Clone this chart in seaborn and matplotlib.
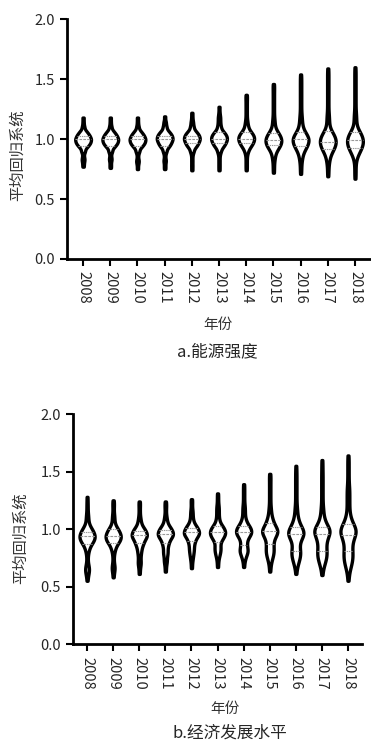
import numpy as np
import pandas as pd
import matplotlib
matplotlib.use("Agg")
import matplotlib.pyplot as plt
import seaborn as sns

years = ["2008", "2009", "2010", "2011", "2012", "2013", "2014", "2015", "2016", "2017", "2018"]

# a. 能源强度 : coefficient values and how many regions share them
energy_vals = {
    "2008": [0.77, 0.80, 0.83, 0.86, 0.90, 0.94, 0.97, 1.00, 1.03, 1.06, 1.10, 1.14, 1.18],
    "2009": [0.76, 0.79, 0.83, 0.86, 0.90, 0.94, 0.97, 1.00, 1.03, 1.06, 1.10, 1.14, 1.18],
    "2010": [0.75, 0.79, 0.82, 0.86, 0.90, 0.94, 0.97, 1.00, 1.03, 1.06, 1.10, 1.14, 1.18],
    "2011": [0.75, 0.78, 0.82, 0.86, 0.90, 0.94, 0.97, 1.00, 1.03, 1.06, 1.10, 1.14, 1.19],
    "2012": [0.74, 0.78, 0.82, 0.86, 0.90, 0.94, 0.97, 1.00, 1.03, 1.06, 1.10, 1.14, 1.18, 1.22],
    "2013": [0.74, 0.78, 0.82, 0.86, 0.90, 0.94, 0.97, 1.00, 1.03, 1.06, 1.10, 1.14, 1.18, 1.22, 1.27],
    "2014": [0.74, 0.78, 0.82, 0.86, 0.90, 0.94, 0.97, 1.00, 1.03, 1.06, 1.10, 1.14, 1.18, 1.22, 1.26, 1.30, 1.34, 1.37],
    "2015": [0.72, 0.76, 0.80, 0.84, 0.88, 0.92, 0.95, 0.98, 1.01, 1.04, 1.07, 1.11, 1.15, 1.19, 1.23, 1.27, 1.31, 1.35, 1.39, 1.43, 1.46],
    "2016": [0.71, 0.75, 0.79, 0.83, 0.87, 0.91, 0.94, 0.97, 1.00, 1.03, 1.06, 1.10, 1.14, 1.18, 1.22, 1.26, 1.30, 1.34, 1.38, 1.42, 1.46, 1.50, 1.54],
    "2017": [0.69, 0.73, 0.77, 0.81, 0.85, 0.89, 0.92, 0.95, 0.98, 1.01, 1.04, 1.07, 1.11, 1.15, 1.19, 1.23, 1.27, 1.31, 1.35, 1.39, 1.43, 1.47, 1.51, 1.55, 1.59],
    "2018": [0.67, 0.71, 0.75, 0.79, 0.83, 0.87, 0.90, 0.93, 0.96, 0.99, 1.02, 1.05, 1.08, 1.12, 1.16, 1.20, 1.24, 1.28, 1.32, 1.36, 1.40, 1.44, 1.48, 1.52, 1.56, 1.60],
}
energy_cnts = {
    "2008": [1, 1, 2, 1, 3, 6, 9, 10, 8, 5, 2, 1, 1],
    "2009": [1, 1, 2, 1, 3, 6, 9, 10, 8, 5, 2, 1, 1],
    "2010": [1, 1, 2, 1, 3, 6, 9, 10, 8, 5, 2, 1, 1],
    "2011": [1, 1, 2, 1, 3, 6, 8, 10, 9, 6, 3, 2, 1],
    "2012": [1, 1, 1, 1, 3, 6, 8, 10, 9, 6, 3, 2, 1, 1],
    "2013": [1, 1, 1, 1, 3, 6, 8, 10, 9, 6, 3, 2, 2, 1, 1],
    "2014": [1, 1, 1, 1, 3, 6, 8, 10, 9, 6, 3, 2, 1, 1, 1, 1, 1, 1],
    "2015": [1, 1, 1, 2, 3, 6, 8, 10, 9, 7, 4, 2, 2, 1, 1, 1, 1, 1, 1, 1, 1],
    "2016": [1, 1, 1, 2, 3, 5, 7, 9, 10, 8, 5, 3, 2, 2, 1, 1, 1, 1, 1, 1, 1, 1, 1],
    "2017": [1, 1, 1, 2, 3, 5, 7, 9, 10, 9, 7, 4, 2, 2, 2, 1, 1, 1, 1, 1, 1, 1, 1, 1, 1],
    "2018": [1, 1, 1, 1, 2, 4, 6, 8, 10, 10, 9, 7, 4, 2, 2, 2, 1, 1, 1, 1, 1, 1, 1, 1, 1, 1],
}

# b. 经济发展水平
economy_vals = {
    "2008": [0.55, 0.59, 0.62, 0.65, 0.68, 0.72, 0.76, 0.80, 0.84, 0.88, 0.91, 0.94, 0.97, 1.00, 1.03, 1.07, 1.11, 1.15, 1.19, 1.23, 1.28],
    "2009": [0.58, 0.62, 0.65, 0.68, 0.72, 0.76, 0.80, 0.84, 0.88, 0.91, 0.94, 0.97, 1.00, 1.03, 1.07, 1.11, 1.15, 1.19, 1.22, 1.25],
    "2010": [0.61, 0.65, 0.69, 0.72, 0.76, 0.80, 0.84, 0.88, 0.92, 0.95, 0.98, 1.01, 1.05, 1.09, 1.13, 1.17, 1.21, 1.24],
    "2011": [0.63, 0.67, 0.71, 0.74, 0.78, 0.81, 0.85, 0.89, 0.93, 0.96, 0.99, 1.02, 1.06, 1.10, 1.14, 1.18, 1.21, 1.24],
    "2012": [0.66, 0.70, 0.74, 0.78, 0.82, 0.86, 0.90, 0.94, 0.97, 1.00, 1.03, 1.07, 1.11, 1.15, 1.19, 1.23, 1.26],
    "2013": [0.67, 0.71, 0.75, 0.79, 0.83, 0.87, 0.91, 0.94, 0.97, 1.00, 1.03, 1.07, 1.11, 1.15, 1.19, 1.23, 1.27, 1.31],
    "2014": [0.67, 0.71, 0.75, 0.79, 0.82, 0.86, 0.90, 0.94, 0.97, 1.00, 1.03, 1.07, 1.11, 1.15, 1.19, 1.23, 1.27, 1.31, 1.35, 1.39],
    "2015": [0.63, 0.67, 0.71, 0.75, 0.79, 0.83, 0.87, 0.91, 0.95, 0.98, 1.01, 1.05, 1.09, 1.13, 1.17, 1.21, 1.25, 1.29, 1.33, 1.37, 1.41, 1.45, 1.48],
    "2016": [0.61, 0.65, 0.69, 0.73, 0.77, 0.81, 0.85, 0.89, 0.93, 0.96, 0.99, 1.02, 1.06, 1.10, 1.14, 1.18, 1.22, 1.26, 1.30, 1.34, 1.38, 1.42, 1.46, 1.50, 1.55],
    "2017": [0.60, 0.64, 0.68, 0.72, 0.76, 0.80, 0.84, 0.88, 0.92, 0.96, 0.99, 1.02, 1.06, 1.10, 1.14, 1.18, 1.22, 1.26, 1.30, 1.34, 1.38, 1.42, 1.46, 1.50, 1.55, 1.60],
    "2018": [0.55, 0.59, 0.63, 0.67, 0.71, 0.75, 0.79, 0.83, 0.87, 0.91, 0.95, 0.98, 1.01, 1.04, 1.08, 1.12, 1.16, 1.20, 1.24, 1.28, 1.32, 1.36, 1.40, 1.44, 1.48, 1.52, 1.56, 1.60, 1.64],
}
economy_cnts = {
    "2008": [1, 1, 2, 3, 2, 1, 1, 2, 4, 7, 9, 10, 8, 6, 3, 2, 2, 1, 1, 1, 1],
    "2009": [1, 1, 2, 2, 1, 1, 2, 4, 7, 9, 10, 8, 6, 3, 2, 2, 1, 1, 1, 1],
    "2010": [1, 1, 2, 2, 2, 3, 4, 7, 9, 10, 8, 6, 3, 2, 1, 1, 1, 1],
    "2011": [1, 1, 2, 2, 3, 3, 4, 6, 9, 10, 8, 6, 3, 2, 1, 1, 1, 1],
    "2012": [1, 1, 2, 3, 4, 4, 6, 9, 10, 8, 6, 3, 2, 2, 1, 1, 1],
    "2013": [1, 1, 2, 4, 5, 4, 6, 8, 10, 8, 6, 3, 2, 2, 2, 1, 1, 1],
    "2014": [1, 1, 3, 5, 6, 5, 5, 8, 10, 9, 7, 4, 2, 2, 2, 1, 1, 1, 1, 1],
    "2015": [1, 1, 2, 4, 6, 6, 5, 6, 9, 10, 9, 6, 4, 2, 2, 1, 1, 1, 1, 1, 1, 1, 1],
    "2016": [1, 1, 3, 5, 7, 7, 5, 6, 9, 10, 9, 7, 5, 3, 2, 2, 1, 1, 1, 1, 1, 1, 1, 1, 1],
    "2017": [1, 1, 3, 5, 7, 7, 6, 6, 8, 10, 10, 8, 5, 3, 2, 2, 1, 1, 1, 1, 1, 1, 1, 1, 1, 1],
    "2018": [1, 1, 2, 4, 6, 7, 7, 6, 6, 8, 10, 10, 9, 7, 5, 3, 2, 2, 2, 2, 2, 2, 1, 1, 1, 1, 1, 1, 1],
}

yticks = [0.0, 0.5, 1.0, 1.5, 2.0]
ylabel = "平均回归系统"
xlabel = "年份"
captions = ["a.能源强度", "b.经济发展水平"]


def to_long(vals, cnts):
    frames = [pd.DataFrame({"year": y, "value": np.repeat(vals[y], cnts[y])}) for y in years]
    return pd.concat(frames, ignore_index=True)


sns.set_style("white")
plt.rcParams["font.family"] = ["Noto Sans CJK SC", "DejaVu Sans"]

fig = plt.figure(figsize=(3.71, 7.42), dpi=100)
ax1 = fig.add_axes([0.180, 0.651, 0.820, 0.323])
ax2 = fig.add_axes([0.196, 0.132, 0.780, 0.310])

panels = [(ax1, to_long(energy_vals, energy_cnts), (-0.6, 10.59)),
          (ax2, to_long(economy_vals, economy_cnts), (-0.55, 10.54))]
for ax, df, xl in panels:
    sns.violinplot(data=df, x="year", y="value", order=years, ax=ax,
                   cut=0, density_norm="width", width=0.58, bw_adjust=0.5,
                   color="white", linecolor="black", linewidth=2.4,
                   inner="quart", inner_kws=dict(color="#999999", linewidth=0.8))
    ax.set_xlim(*xl)
    ax.set_ylim(0, 2)
    ax.set_yticks(yticks)
    ax.set_yticklabels([f"{t:.1f}" for t in yticks])
    ax.set_xlabel("")
    ax.set_ylabel("")
    for s in ["top", "right"]:
        ax.spines[s].set_visible(False)
    for s in ["left", "bottom"]:
        ax.spines[s].set_linewidth(2)
        ax.spines[s].set_color("black")
    ax.tick_params(axis="both", direction="out", length=5, width=1.5, color="black",
                   labelsize=10.5, left=True, bottom=True)
    ax.tick_params(axis="x", pad=4)
    plt.setp(ax.get_xticklabels(), rotation=-90)

fig.text(17 / 371, 1 - 155 / 742, ylabel, rotation=90, ha="center", va="center", fontsize=11, color="#333333")
fig.text(20 / 371, 1 - 538 / 742, ylabel, rotation=90, ha="center", va="center", fontsize=11, color="#333333")
fig.text(218 / 371, 1 - 325 / 742, xlabel, ha="center", va="center", fontsize=10.5, color="#333333")
fig.text(225 / 371, 1 - 709 / 742, xlabel, ha="center", va="center", fontsize=10.5, color="#333333")
fig.text(217 / 371, 1 - 352 / 742, captions[0], ha="center", va="center", fontsize=12)
fig.text(230 / 371, 1 - 733 / 742, captions[1], ha="center", va="center", fontsize=12)

fig.savefig("out.png", dpi=100)
